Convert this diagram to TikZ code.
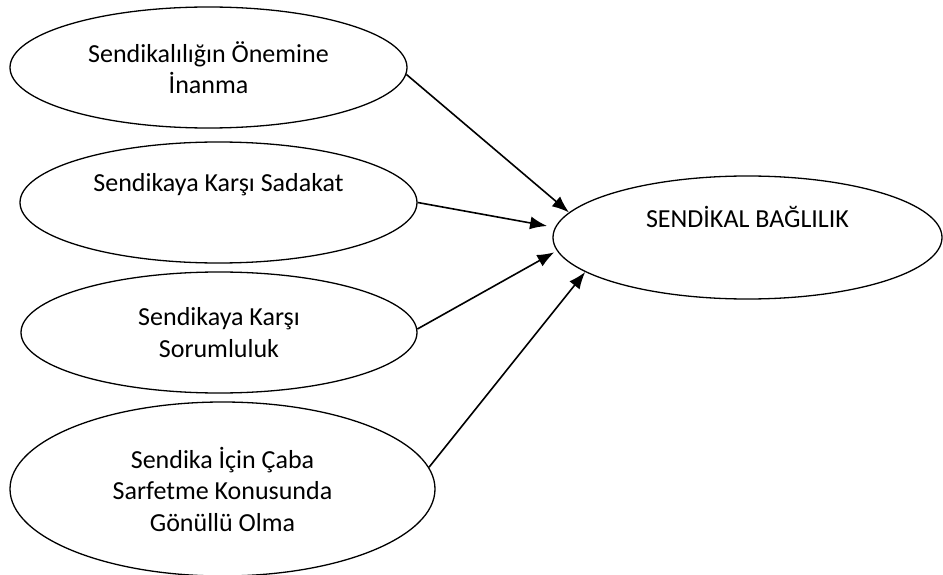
\documentclass[tikz,border=0pt]{standalone}
\usepackage{fontspec}
\setmainfont{Carlito}
\usetikzlibrary{shapes.geometric,arrows.meta}
\tikzset{>={Latex[length=17pt,width=13pt]}}
\tikzset{
  oval/.style={draw,ellipse,line width=1.3pt,inner sep=0pt,align=center,
    font=\fontsize{26}{31.5}\selectfont},
  link/.style={->,line width=1.6pt}
}

\begin{document}
\begin{tikzpicture}[x=1pt,y=-1pt]
    \useasboundingbox (0,0) rectangle (943,575);
    % left side
    \node[oval,minimum width=397pt,minimum height=121pt] (inanma) at (208.5,67.5)
      {Sendikalılığın Önemine\\İnanma};
    \node[oval,minimum width=397pt,minimum height=121pt] (sadakat) at (218.5,202.5)
      {Sendikaya Karşı Sadakat\\\strut};
    \node[oval,minimum width=396pt,minimum height=121pt] (sorum) at (219,332.5)
      {Sendikaya Karşı\\Sorumluluk};
    \node[oval,minimum width=425pt,minimum height=174pt] (caba) at (222.5,489)
      {Sendika İçin Çaba\\Sarfetme Konusunda\\Gönüllü Olma};
    % right side
    \node[oval,minimum width=389pt,minimum height=123pt] (bag) at (747.5,237.5)
      {SENDİKAL BAĞLILIK\\\strut};
    \draw[link] (inanma.-2) -- (bag.172);
    \draw[link,shorten >=8pt] (sadakat.east) -- (bag.177);
    \draw[link,shorten >=3pt] (sorum.1) -- (bag.184.5);
    \draw[link] (caba.6) -- (bag.192.3);
  \end{tikzpicture}
\end{document}
